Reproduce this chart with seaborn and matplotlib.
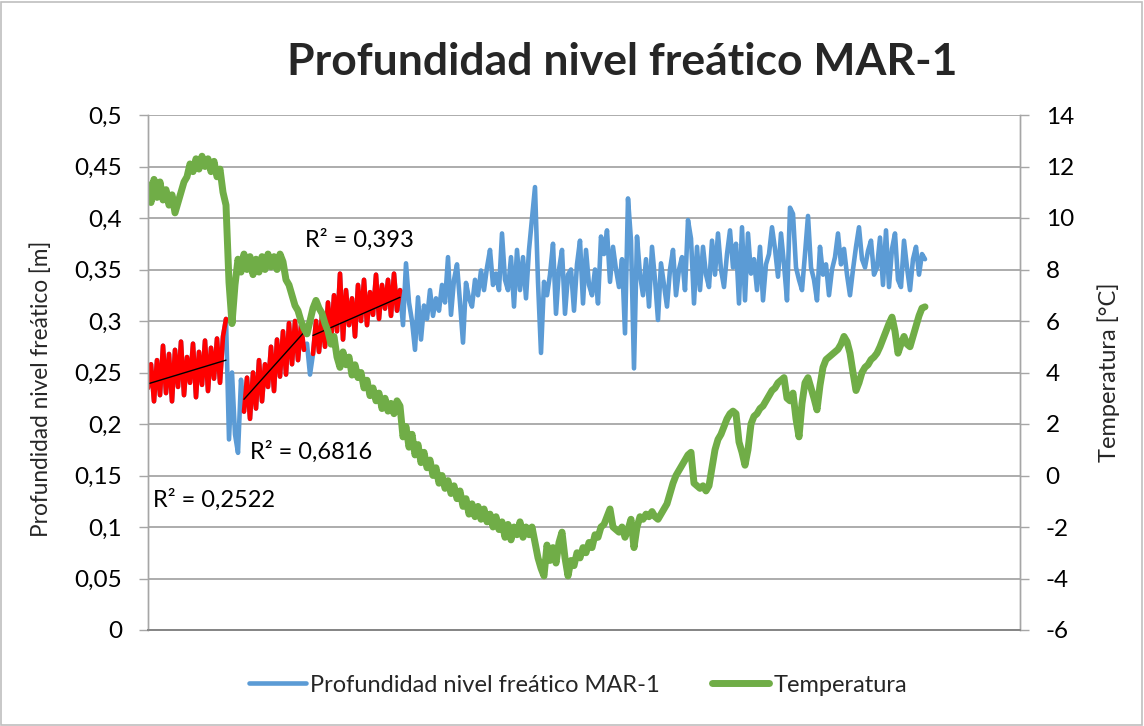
import numpy as np
import pandas as pd
import matplotlib
matplotlib.use("Agg")
import matplotlib.pyplot as plt
from matplotlib.patches import Rectangle
from matplotlib.ticker import FuncFormatter, FixedLocator
import seaborn as sns

# --- Serie registrada en el piezómetro MAR-1 -------------------------------
titulo = "Profundidad nivel freático MAR-1"
nombre_prof = "Profundidad nivel freático MAR-1"
nombre_temp = "Temperatura"
etiqueta_prof = "Profundidad nivel freático [m]"
etiqueta_temp = "Temperatura [°C]"

# profundidad del nivel freático [m]
prof = [
    0.235, 0.258, 0.222, 0.262, 0.228, 0.276, 0.230, 0.268, 0.222, 0.272,
    0.236, 0.280, 0.228, 0.265, 0.240, 0.278, 0.226, 0.270, 0.238, 0.281,
    0.232, 0.274, 0.244, 0.283, 0.240, 0.285, 0.302, 0.185, 0.250, 0.190,
    0.172, 0.243, 0.212, 0.245, 0.205, 0.250, 0.215, 0.262, 0.222, 0.258,
    0.236, 0.275, 0.232, 0.282, 0.246, 0.290, 0.248, 0.298, 0.258, 0.300,
    0.262, 0.296, 0.272, 0.278, 0.248, 0.268, 0.300, 0.270, 0.305, 0.275,
    0.318, 0.280, 0.325, 0.290, 0.346, 0.282, 0.330, 0.296, 0.322, 0.285,
    0.335, 0.300, 0.340, 0.296, 0.328, 0.306, 0.345, 0.302, 0.335, 0.312,
    0.340, 0.305, 0.346, 0.310, 0.330, 0.296, 0.356, 0.318, 0.300, 0.272,
    0.323, 0.282, 0.315, 0.302, 0.330, 0.305, 0.322, 0.310, 0.335, 0.318,
    0.362, 0.306, 0.340, 0.355, 0.318, 0.279, 0.337, 0.322, 0.314, 0.340,
    0.325, 0.349, 0.330, 0.352, 0.369, 0.335, 0.346, 0.330, 0.385, 0.340,
    0.330, 0.362, 0.314, 0.369, 0.330, 0.362, 0.322, 0.369, 0.400, 0.430,
    0.338, 0.269, 0.338, 0.325, 0.345, 0.375, 0.307, 0.350, 0.369, 0.307,
    0.345, 0.350, 0.310, 0.355, 0.378, 0.317, 0.369, 0.335, 0.325, 0.350,
    0.317, 0.382, 0.365, 0.388, 0.338, 0.372, 0.350, 0.333, 0.360, 0.288,
    0.419, 0.378, 0.254, 0.382, 0.345, 0.325, 0.360, 0.314, 0.372, 0.340,
    0.301, 0.356, 0.335, 0.314, 0.350, 0.369, 0.325, 0.350, 0.362, 0.330,
    0.398, 0.380, 0.317, 0.372, 0.330, 0.372, 0.345, 0.333, 0.378, 0.345,
    0.385, 0.350, 0.333, 0.365, 0.388, 0.352, 0.375, 0.317, 0.391, 0.320,
    0.385, 0.346, 0.360, 0.330, 0.372, 0.320, 0.355, 0.365, 0.391, 0.370,
    0.343, 0.385, 0.355, 0.320, 0.410, 0.404, 0.352, 0.340, 0.330, 0.365,
    0.402, 0.352, 0.340, 0.320, 0.372, 0.345, 0.355, 0.325, 0.350, 0.362,
    0.385, 0.355, 0.370, 0.345, 0.325, 0.350, 0.372, 0.391, 0.360, 0.352,
    0.368, 0.378, 0.345, 0.352, 0.381, 0.335, 0.388, 0.333, 0.370, 0.385,
    0.340, 0.333, 0.378, 0.352, 0.330, 0.360, 0.372, 0.345, 0.365, 0.360,
]

# temperatura del agua [°C]
temp = [
    11.3, 10.6, 11.5, 10.8, 11.4, 10.7, 11.1, 10.5, 10.9, 10.2,
    10.6, 11.0, 11.4, 11.6, 12.1, 11.8, 12.3, 11.9, 12.4, 12.0,
    12.3, 11.8, 12.2, 11.6, 11.9, 11.0, 10.5, 7.5, 5.9, 7.4,
    8.4, 7.9, 8.6, 8.0, 8.5, 7.8, 8.4, 7.9, 8.5, 8.0,
    8.6, 8.1, 8.5, 8.0, 8.6, 8.3, 7.6, 7.4, 7.0, 6.6,
    6.4, 6.0, 5.7, 5.5, 6.0, 6.5, 6.8, 6.5, 6.3, 5.9,
    5.6, 5.1, 5.4, 4.6, 4.2, 4.8, 4.3, 4.6, 3.9, 4.3,
    3.8, 4.0, 3.4, 3.7, 3.1, 3.4, 2.9, 3.2, 2.6, 3.0,
    2.5, 2.8, 2.4, 2.9, 2.7, 1.5, 1.9, 1.1, 1.6, 0.8,
    1.2, 0.5, 0.9, 0.3, 0.6, 0.0, 0.3, -0.3, 0.0, -0.5,
    -0.2, -0.7, -0.4, -0.9, -0.6, -1.2, -0.9, -1.5, -1.1, -1.6,
    -1.2, -1.7, -1.3, -1.8, -1.5, -2.0, -1.6, -2.1, -1.8, -2.4,
    -1.9, -2.5, -2.0, -2.3, -1.8, -2.4, -2.0, -2.3, -2.0, -2.6,
    -3.2, -3.6, -3.9, -2.7, -3.3, -2.8, -3.4, -2.6, -2.2, -3.2,
    -3.9, -3.3, -3.5, -3.0, -3.2, -2.8, -3.0, -2.6, -2.8, -2.3,
    -2.4, -2.0, -1.9, -1.6, -1.3, -2.0, -2.1, -2.2, -2.0, -2.4,
    -2.1, -1.7, -2.8, -2.0, -1.6, -1.7, -1.5, -1.6, -1.4, -1.6,
    -1.7, -1.5, -1.3, -1.1, -0.7, -0.3, 0.0, 0.2, 0.4, 0.6,
    0.8, 0.9, -0.3, -0.4, -0.5, -0.4, -0.6, -0.4, 0.3, 1.0,
    1.4, 1.6, 1.9, 2.2, 2.4, 2.5, 2.4, 1.3, 0.9, 0.4,
    1.0, 2.0, 2.3, 2.4, 2.6, 2.7, 2.9, 3.1, 3.3, 3.4,
    3.6, 3.7, 3.8, 3.0, 2.9, 3.2, 2.2, 1.5, 2.8, 3.6,
    3.8, 3.4, 3.0, 2.55, 3.5, 4.2, 4.5, 4.6, 4.7, 4.8,
    4.9, 5.1, 5.4, 5.2, 4.75, 4.0, 3.3, 3.6, 4.0, 4.2,
    4.3, 4.5, 4.6, 4.75, 5.0, 5.3, 5.6, 5.9, 6.15, 5.6,
    4.75, 5.1, 5.4, 5.1, 5.0, 5.4, 5.8, 6.2, 6.5, 6.55,
]

# tramos analizados (índices de muestra, fin exclusivo)
tramos_rojos = [(0, 27), (32, 53), (55, 85)]
# rectas de tendencia de cada tramo: muestra inicial/final y profundidad
tendencia_x = [(0, 26), (32, 52), (55, 84)]
tendencia_y = [(0.239, 0.262), (0.224, 0.289), (0.286, 0.323)]
r2_textos = ["R² = 0,2522", "R² = 0,6816", "R² = 0,393"]

ticks_prof = [0, 0.05, 0.1, 0.15, 0.2, 0.25, 0.3, 0.35, 0.4, 0.45, 0.5]
ticks_temp = [-6, -4, -2, 0, 2, 4, 6, 8, 10, 12, 14]

# --- Estilo --------------------------------------------------------------
sns.set_theme(style="white")
plt.rcParams["font.family"] = ["Lato", "DejaVu Sans"]
plt.rcParams["axes.unicode_minus"] = False
plt.rcParams["lines.solid_joinstyle"] = "round"
plt.rcParams["lines.solid_capstyle"] = "round"

AZUL = "#5b9bd5"
VERDE = "#70ad47"
ROJO = "#ff0000"
GRIS = "#a6a6a6"
GRIS_EJE = "#868686"

df = pd.DataFrame({"muestra": np.arange(len(prof)), "prof": prof, "temp": temp})

fig = plt.figure(figsize=(11.44, 7.26), dpi=100)
ax = fig.add_axes([148 / 1144, 96 / 726, 872 / 1144, 515 / 726])
ax2 = ax.twinx()

# profundidad (eje izquierdo)
sns.lineplot(data=df, x="muestra", y="prof", ax=ax, color=AZUL, linewidth=3.3,
             estimator=None, label=nombre_prof, legend=False)
linea_prof = ax.lines[-1]

for ini, fin in tramos_rojos:
    sns.lineplot(data=df.iloc[ini:fin], x="muestra", y="prof", ax=ax, color=ROJO,
                 linewidth=3.3, estimator=None, legend=False)

for (x0, x1), (y0, y1) in zip(tendencia_x, tendencia_y):
    sns.lineplot(x=[x0, x1], y=[y0, y1], ax=ax, color="black", linewidth=1.0,
                 estimator=None, legend=False)

# temperatura (eje derecho)
sns.lineplot(data=df, x="muestra", y="temp", ax=ax2, color=VERDE, linewidth=5.0,
             estimator=None, label=nombre_temp, legend=False)
linea_temp = ax2.lines[-1]

# --- Ejes ----------------------------------------------------------------
ax.set_xlim(0, 872 / 3)
ax.set_ylim(0, 0.5)
ax2.set_ylim(-6, 14)
ax.set_xticks([])
ax.set_xlabel("")

ax.yaxis.set_major_locator(FixedLocator(ticks_prof))
ax2.yaxis.set_major_locator(FixedLocator(ticks_temp))
ax.yaxis.set_major_formatter(FuncFormatter(lambda v, _: f"{v:g}".replace(".", ",")))
ax2.yaxis.set_major_formatter(FuncFormatter(lambda v, _: f"{v:g}"))

ax.grid(axis="y", color=GRIS, linewidth=1.3)
ax.set_axisbelow(True)
ax2.grid(False)

for a in (ax, ax2):
    a.spines["top"].set_visible(False)
    a.spines["left"].set_color(GRIS)
    a.spines["right"].set_color(GRIS)
    a.spines["bottom"].set_color(GRIS_EJE)
    a.spines["left"].set_linewidth(1.0)
    a.spines["right"].set_linewidth(1.0)
    a.spines["bottom"].set_linewidth(1.3)
    a.tick_params(axis="y", length=6.5, width=1.0, color=GRIS, labelsize=17.5,
                  labelcolor="black", pad=12)

ax.set_ylabel(etiqueta_prof, fontsize=16.3)
ax2.set_ylabel(etiqueta_temp, fontsize=17)
ax.yaxis.set_label_coords((52 - 148) / 872, (726 - 389 - 96) / 515)
ax2.yaxis.set_label_coords((1097 - 148) / 872, (726 - 372 - 96) / 515)

# coeficientes de determinación de las rectas de tendencia
pos_r2 = [(1.7, 0.126), (34.0, 0.173), (52.3, 0.379)]
for texto, (xt, yt) in zip(r2_textos, pos_r2):
    ax.text(xt, yt, texto, fontsize=17, va="center", ha="left", color="black")

fig.text(622 / 1144, 1 - 62 / 726, titulo, fontsize=32, fontweight="bold",
         ha="center", va="center")

fig.legend([linea_prof, linea_temp], [nombre_prof, nombre_temp], loc="center",
           bbox_to_anchor=(578 / 1144, 1 - 685 / 726), ncol=2, frameon=False,
           fontsize=17, handlelength=2.4, columnspacing=2.2, handletextpad=0.2)

fig.patches.append(Rectangle((0.001, 0.002), 0.997, 0.995, transform=fig.transFigure,
                             fill=False, edgecolor="#bfbfbf", linewidth=1.2))

fig.savefig("out.png", dpi=100, facecolor="white")
